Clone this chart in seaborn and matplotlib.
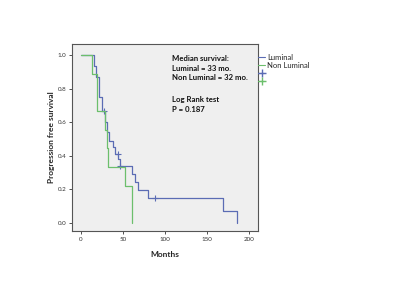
import matplotlib
matplotlib.use("Agg")
import matplotlib.pyplot as plt
from matplotlib.lines import Line2D
import seaborn as sns
import pandas as pd

# Luminal (blue) Kaplan-Meier steps
lum_t = [0, 15.5, 18, 21, 25, 29, 31, 33, 38, 41, 44, 46, 61, 64, 68, 80, 169, 186, 186]
lum_s = [1.0, 0.933, 0.87, 0.75, 0.667, 0.60, 0.54, 0.49, 0.45, 0.41, 0.38, 0.34, 0.29, 0.24, 0.195, 0.145, 0.072, 0.0, 0.0]
lum_cens_t = [27.5, 43.5, 47, 88]
lum_cens_s = [0.667, 0.41, 0.34, 0.145]

# Non Luminal (green) Kaplan-Meier steps
nl_t = [0, 13, 19, 28.5, 30.5, 32.5, 52.5, 61, 61]
nl_s = [1.0, 0.889, 0.667, 0.556, 0.444, 0.333, 0.222, 0.0, 0.0]

x_ticks = [0, 50, 100, 150, 200]
y_ticks = [0.0, 0.2, 0.4, 0.6, 0.8, 1.0]
groups = ["Luminal", "Non Luminal"]
annot = ["Median survival:", "Luminal = 33 mo.", "Non Luminal = 32 mo.", "Log Rank test", "P = 0.187"]
annot_y = [0.923, 0.870, 0.820, 0.704, 0.652]

blue = "#5b6cb4"
green = "#6cbf6c"

sns.set_style("white")
plt.rcParams["font.family"] = ["Lato", "DejaVu Sans"]

df = pd.concat([
    pd.DataFrame({"Months": lum_t, "surv": lum_s, "group": groups[0]}),
    pd.DataFrame({"Months": nl_t, "surv": nl_s, "group": groups[1]}),
])
cens = pd.DataFrame({"Months": lum_cens_t, "surv": lum_cens_s, "group": groups[0]})

fig = plt.figure(figsize=(4.0, 2.94), dpi=100)
ax = fig.add_axes([0.18, 0.214, 0.465, 0.636])
ax.set_facecolor("#efefef")

sns.lineplot(data=df, x="Months", y="surv", hue="group", palette=[blue, green],
             drawstyle="steps-post", estimator=None, sort=False, linewidth=0.9,
             legend=False, ax=ax)
sns.scatterplot(data=cens, x="Months", y="surv", color=blue, marker="+", s=14,
                linewidth=0.8, legend=False, ax=ax)

ax.set_xlim(-10.7, 210.7)
ax.set_ylim(-0.05, 1.066)
ax.set_xticks(x_ticks)
ax.set_yticks(y_ticks)
ax.set_xticklabels([str(v) for v in x_ticks], fontsize=4.5)
ax.set_yticklabels([f"{v:.1f}" for v in y_ticks], fontsize=4.5)
ax.tick_params(axis="both", length=2, width=0.6, pad=2, colors="#333333", direction="out")
ax.tick_params(bottom=True, left=True)
for sp in ax.spines.values():
    sp.set_color("#555555")
    sp.set_linewidth(0.8)
ax.set_xlabel("Months", fontsize=6, fontweight="bold", labelpad=7)
ax.set_ylabel("Progression free survival", fontsize=6, fontweight="bold", labelpad=2)

for txt, yy in zip(annot, annot_y):
    ax.text(0.538, yy, txt, transform=ax.transAxes, fontsize=5.6,
            fontweight="bold", va="center", ha="left", color="#111111")

handles = [
    Line2D([], [], color=blue, lw=0.8, drawstyle="steps-post"),
    Line2D([], [], color=green, lw=0.8),
    Line2D([], [], color=blue, lw=0.8, marker="+", markersize=6),
    Line2D([], [], color=green, lw=0.8, marker="+", markersize=6),
]
fig.legend(handles, groups + ["", ""], loc="upper left", bbox_to_anchor=(0.646, 0.818),
           frameon=False, fontsize=5.5, handlelength=0.9, handletextpad=0.25,
           labelspacing=0.15, borderaxespad=0, borderpad=0)

fig.savefig("out.png", dpi=100)
